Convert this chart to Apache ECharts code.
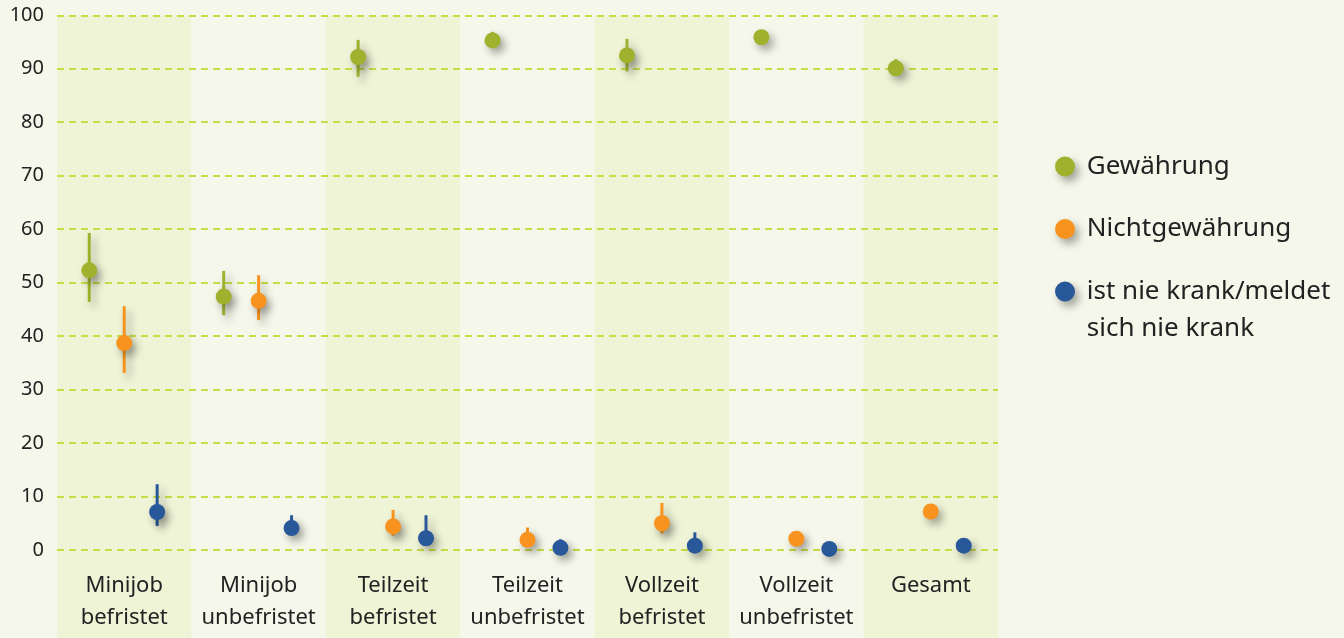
<!DOCTYPE html>
<html><head><meta charset="utf-8">
<script src="https://cdn.jsdelivr.net/npm/echarts@6/dist/echarts.min.js"></script>
<style>html,body{margin:0;padding:0;background:#f5f7ea;}#c{width:1344px;height:638px;}</style>
</head><body><div id="c"></div>
<script>
const categories = ['Minijob\nbefristet','Minijob\nunbefristet','Teilzeit\nbefristet','Teilzeit\nunbefristet','Vollzeit\nbefristet','Vollzeit\nunbefristet','Gesamt'];
const yTicks = [0,10,20,30,40,50,60,70,80,90,100];
const seriesNames = ['Gewährung','Nichtgewährung','ist nie krank/meldet sich nie krank'];
const legendLabels = ['\n Gewährung\n','\n Nichtgewährung\n','\n ist nie krank/meldet\n sich nie krank'];

const gewaehrung     = [52.3, 47.4, 92.2, 95.3, 92.5, 95.9, 90.1];
const gewaehrungLow  = [46.4, 43.9, 88.5, 95.3, 89.5, 95.9, 90.1];
const gewaehrungHigh = [59.3, 52.2, 95.4, 96.9, 95.6, 95.9, 91.8];

const nicht     = [38.7, 46.6, 4.4, 1.9, 5.0, 2.1, 7.2];
const nichtLow  = [33.1, 43.0, 2.7, 1.9, 3.1, 2.1, 7.2];
const nichtHigh = [45.6, 51.4, 7.5, 4.2, 8.8, 3.3, 7.2];

const nie     = [7.1, 4.1, 2.2, 0.4, 0.8, 0.2, 0.8];
const nieLow  = [4.5, 4.1, 2.2, 0.4, 0.8, 0.2, 0.8];
const nieHigh = [12.3, 6.5, 6.5, 2.0, 3.3, 0.2, 0.8];

const colors = ['#a0b12e', '#f7931e', '#28579a'];
const offsets = [-0.26, 0, 0.245];
const FONT = 'Noto Sans';
const SHADOW = {shadowBlur: 8, shadowOffsetX: 4, shadowOffsetY: 5, shadowColor: 'rgba(0,0,0,0.35)'};

function makeSeries(idx, values, lows, highs) {
  const color = colors[idx];
  const off = offsets[idx];
  return {
    type: 'custom',
    name: seriesNames[idx],
    itemStyle: {color: color},
    data: values.map((v, i) => [i, v, lows[i], highs[i]]),
    encode: {x: 0, y: 1},
    z: 3,
    renderItem: function (params, api) {
      const i = api.value(0);
      const w = api.size([1, 0])[0];
      const p = api.coord([i, api.value(1)]);
      const lo = api.coord([i, api.value(2)]);
      const hi = api.coord([i, api.value(3)]);
      const x = p[0] + w * off;
      return {
        type: 'group',
        children: [
          {type: 'line', shape: {x1: x, y1: lo[1], x2: x, y2: hi[1]},
           style: Object.assign({stroke: color, lineWidth: 3}, SHADOW)},
          {type: 'circle', shape: {cx: x, cy: p[1], r: 8},
           style: Object.assign({fill: color}, SHADOW)}
        ]
      };
    }
  };
}

const chart = echarts.init(document.getElementById('c'));
chart.setOption({
  backgroundColor: '#f5f7ea',
  animation: false,
  grid: {left: 57, right: 346, top: 15.3, bottom: 0, outerBoundsMode: 'none', containLabel: false},
  xAxis: {
    type: 'category',
    z: 0,
    position: 'bottom',
    data: categories,
    axisLine: {show: false, onZero: false},
    axisTick: {show: false},
    splitArea: {show: true, areaStyle: {color: ['#eff4d7', '#f5f7ea']}},
    axisLabel: {fontFamily: FONT, fontSize: 22, color: '#222', lineHeight: 32, margin: -68, interval: 0, hideOverlap: false}
  },
  yAxis: {
    type: 'value',
    z: 1,
    min: -16.46,
    max: 100,
    axisLine: {show: false},
    axisTick: {show: false, customValues: yTicks},
    axisLabel: {customValues: yTicks, fontFamily: FONT, fontSize: 20, color: '#222', margin: 13},
    splitLine: {show: true, lineStyle: {type: [7, 5], color: '#c8dc48', width: 2}}
  },
  legend: {
    orient: 'vertical',
    left: 1055,
    top: 111,
    padding: 0,
    itemGap: -48.5,
    itemWidth: 20,
    itemHeight: 20,
    icon: 'circle',
    itemStyle: SHADOW,
    formatter: function (name) { return legendLabels[seriesNames.indexOf(name)]; },
    textStyle: {fontFamily: FONT, fontSize: 26, color: '#222', lineHeight: 37},
    data: seriesNames
  },
  series: [
    makeSeries(0, gewaehrung, gewaehrungLow, gewaehrungHigh),
    makeSeries(1, nicht, nichtLow, nichtHigh),
    makeSeries(2, nie, nieLow, nieHigh)
  ]
});
</script></body></html>
